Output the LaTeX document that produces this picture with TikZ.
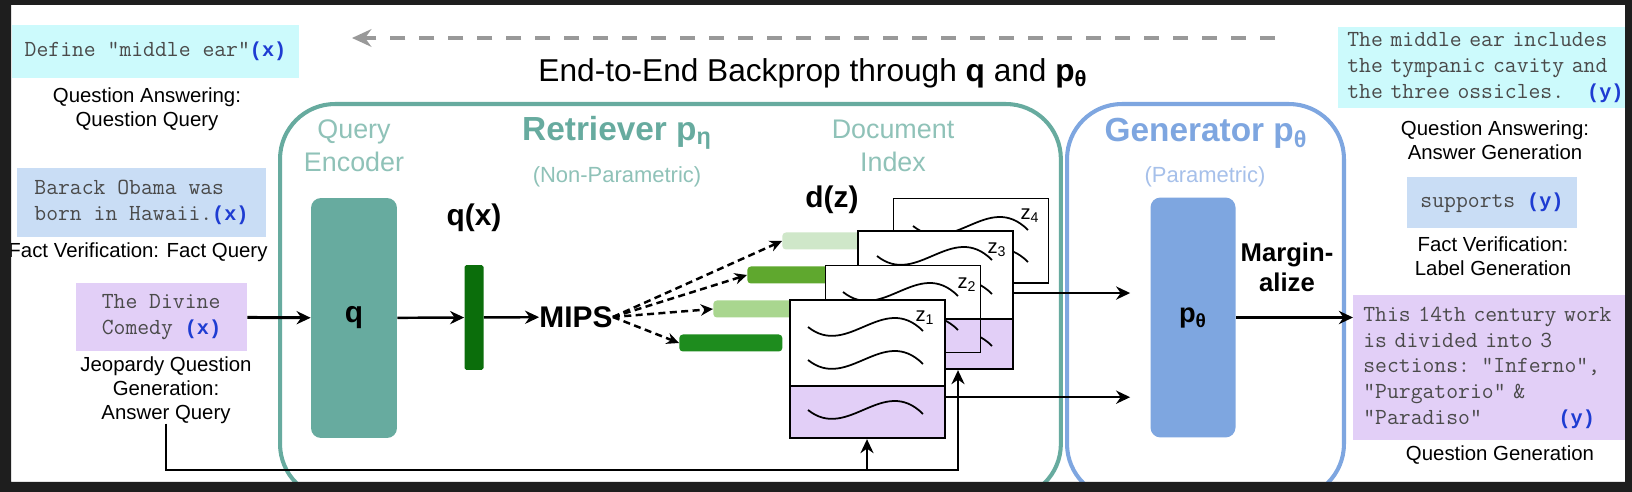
\documentclass[tikz,border=0pt]{standalone}
\usepackage{fontspec}
\setmainfont{Liberation Sans}
\newfontfamily\tagfont{Liberation Mono}
\usepackage{xcolor}
\usepackage{tikz}
\usetikzlibrary{arrows.meta,positioning}

\definecolor{framebg}{HTML}{1E1E1E}
\definecolor{rtteal}{HTML}{67AB9F}
\definecolor{rtlight}{HTML}{8FC2B8}
\definecolor{gnblue}{HTML}{7EA6E0}
\definecolor{gnlight}{HTML}{A6C0EA}
\definecolor{qacyan}{HTML}{CCFAFC}
\definecolor{fvblue}{HTML}{C9DDF5}
\definecolor{jqpurple}{HTML}{E2CFF7}
\definecolor{ytag}{HTML}{1E3CD2}
\definecolor{monogray}{HTML}{4A4A4A}
\definecolor{barpale}{HTML}{CFE7C9}
\definecolor{barmid}{HTML}{5FA82E}
\definecolor{barlight}{HTML}{A9D68F}
\definecolor{bardark}{HTML}{1E8C1E}
\definecolor{qxgreen}{HTML}{0B6E0B}

\newcommand{\tagx}{{\tagfont\fontsize{11.5pt}{14.7pt}\selectfont\bfseries\color{ytag}(x)}}
\newcommand{\tagy}{{\tagfont\fontsize{11.5pt}{14.7pt}\selectfont\bfseries\color{ytag}(y)}}
\newcommand{\docwave}[2]{\draw[wave, shift={(#1,#2)}] (0,0) .. controls (40,32) and (75,-36) .. (115,4);}

\begin{document}
\begin{tikzpicture}[
    x=0.02cm, y=-0.02cm,
    every node/.style={inner sep=0pt},
    lbl/.style={font=\fontsize{11.6pt}{13.6pt}\selectfont, align=center},
    mono/.style={font=\fontsize{13.1pt}{14.7pt}\selectfont\ttfamily, text=monogray, align=left},
    title/.style={font=\fontsize{19pt}{22pt}\selectfont\bfseries},
    subtitle/.style={font=\fontsize{12.5pt}{15pt}\selectfont},
    part/.style={font=\fontsize{15.3pt}{18.7pt}\selectfont, align=center},
    bold/.style={font=\fontsize{17pt}{20pt}\selectfont\bfseries},
    modbox/.style={draw, line width=2.3pt, rounded corners=1.1cm, anchor=north west, minimum height=7.9cm},
    encbox/.style={rounded corners=0.2cm, minimum width=1.72cm, minimum height=4.8cm},
    bar/.style={anchor=west, minimum width=2.06cm, minimum height=0.34cm, rounded corners=2pt},
    card/.style={draw, fill=white, anchor=north west, minimum width=3.1cm, path picture={
        \fill[jqpurple] ([yshift=#1]path picture bounding box.south west) rectangle (path picture bounding box.south east);
        \draw[line width=1.25pt] ([yshift=#1]path picture bounding box.south west) -- ([yshift=#1]path picture bounding box.south east);}},
    zlbl/.style={font=\fontsize{11.5pt}{13pt}\selectfont},
    wave/.style={line width=1pt},
    arr/.style={-{Stealth[length=8pt,width=7.5pt]}, line width=1.4pt},
    thinarr/.style={-{Stealth[length=8pt,width=7.5pt]}, line width=1.1pt},
    dasharr/.style={-{Stealth[length=7pt,width=6.5pt]}, line width=1.4pt, dash pattern=on 4pt off 2.5pt},
    backarr/.style={-{Stealth[length=11pt,width=10pt]}, line width=2.8pt, draw=gray!80, dash pattern=on 8.5pt off 8pt}
]

\useasboundingbox (0,0) rectangle (1632,492);
\fill[white] (0,0) rectangle (1632,492);

% Retriever and generator
\node[modbox, draw=rtteal, minimum width=15.62cm] (retr) at (278,102) {};
\node[modbox, draw=gnblue, minimum width=5.54cm] (gen) at (1065,102) {};

\node[title, text=rtteal] (rettitle) at (617,133) {Retriever p\textsubscript{η}};
\node[subtitle, text=rtlight] (retsub) at (617,177) {(Non-Parametric)};
\node[part, text=rtlight] (qenc) at (354,146) {Query\\Encoder};
\node[part, text=rtlight] (docidx) at (893,146) {Document\\Index};
\node[title, text=gnblue] (gentitle) at (1206,133) {Generator p\textsubscript{θ}};
\node[subtitle, text=gnlight] (gensub) at (1205,177) {(Parametric)};

% Inputs
\node[mono, fill=qacyan, minimum width=5.74cm, minimum height=1.06cm] (inqa) at (155.5,51.5) {Define "middle ear"\tagx};
\node[lbl] (qalbl) at (147,109) {Question Answering:\\Question Query};
\node[mono, fill=fvblue, minimum width=4.98cm, minimum height=1.38cm] (infv) at (141.5,202.5) {Barack Obama was\\born in Hawaii.\tagx};
\node[lbl] (fvlbl) at (138,252) {Fact Verification: Fact Query};
\node[mono, fill=jqpurple, minimum width=3.42cm, minimum height=1.36cm] (injq) at (161.5,317) {The Divine\\Comedy~\tagx};
\node[lbl] (jqlbl) at (166,390) {Jeopardy Question\\Generation:\\Answer Query};

% Query encoder and MIPS
\node[encbox, fill=rtteal, bold] (qbox) at (354,318) {q};
\node[bold] (qxlbl) at (474,218) {q(x)};
\node[fill=qxgreen, minimum width=0.38cm, minimum height=2.1cm, rounded corners=1pt] (qxbar) at (474,317.5) {};
\node[bold] (mips) at (576,317) {MIPS};
\node[bold] (dzlbl) at (832,200) {d(z)};

% Document vectors
\node[bar, fill=barpale] (barA) at (782,241) {};
\node[bar, fill=barmid] (barB) at (747,275) {};
\node[bar, fill=barlight] (barC) at (713,309) {};
\node[bar, fill=bardark] (barD) at (679,343) {};

% Documents
\node[card=0pt, line width=0.7pt, minimum height=1.7cm] (z4) at (893,198) {};
\docwave{913}{226}
\docwave{913}{258}
\node[zlbl] (z4lbl) at (1030,216) {z\textsubscript{4}};

\node[card=1.0cm, line width=1.25pt, minimum height=2.76cm] (z3) at (857,230) {};
\docwave{877}{256}
\docwave{877}{290}
\docwave{877}{342}
\node[zlbl] (z3lbl) at (997,250) {z\textsubscript{3}};

\node[card=0.68cm, line width=0.7pt, minimum height=1.74cm] (z2) at (825,265) {};
\docwave{843}{292}
\docwave{843}{326}
\node[zlbl] (z2lbl) at (967,285) {z\textsubscript{2}};

\node[card=1.04cm, line width=1.25pt, minimum height=2.76cm] (z1) at (789,299) {};
\docwave{808}{327}
\docwave{808}{360}
\docwave{808}{410}
\node[zlbl] (z1lbl) at (925,318) {z\textsubscript{1}};

% Generator
\node[encbox, fill=gnblue, font=\fontsize{15.5pt}{18pt}\selectfont\bfseries, minimum width=1.7cm] (pbox) at (1193,317.5) {p\textsubscript{θ}};
\node[font=\fontsize{14.6pt}{17pt}\selectfont\bfseries, align=center] (marg) at (1287,267) {Margin-\\alize};

% Outputs
\node[mono, fill=qacyan, anchor=north west, minimum height=1.62cm, text width=6cm, inner xsep=0.18cm] (outqa) at (1338,27) {The middle ear includes\\the tympanic cavity and\\the three ossicles.~~~\tagy};
\node[lbl] (qaoutlbl) at (1495,140) {Question Answering:\\Answer Generation};
\node[mono, fill=fvblue, minimum width=3.4cm, minimum height=1.02cm] (outfv) at (1492,202.5) {supports~\tagy};
\node[lbl] (fvoutlbl) at (1493,256) {Fact Verification:\\Label Generation};
\node[mono, fill=jqpurple, anchor=north west, minimum height=2.9cm, text width=6cm, inner xsep=0.2cm] (outjq) at (1353,295) {This 14th century work\\is divided into 3\\sections: "Inferno",\\"Purgatorio" \&\\"Paradiso"~~~~~~~~~~\tagy};
\node[lbl] (jqoutlbl) at (1500,455) {Question Generation};

% Backprop
\coordinate (bpR) at (1275,38);
\coordinate (bpL) at (352,38);
\draw[backarr] (bpR) -- (bpL);
\node[font=\fontsize{18pt}{21pt}\selectfont] (bptext) at (813,73) {End-to-End Backprop through \textbf{q} and \textbf{p\textsubscript{θ}}};

% Connections
\draw[arr, line width=1.7pt] (injq) -- (qbox);
\draw[arr] (qbox) -- (qxbar);
\draw[arr] (qxbar) -- (mips);
\foreach \b in {barA,barB,barC,barD}
    \draw[dasharr] (mips.east) -- (\b.west);

\coordinate (z3out) at ([yshift=4pt]z3.east);
\coordinate (z1out) at ([yshift=-16pt]z1.east);
\draw[arr, shorten >=0.4cm] (z3out) -- (z3out -| pbox.west);
\draw[arr, shorten >=0.4cm] (z1out) -- (z1out -| pbox.west);
\draw[arr] (pbox) -- (pbox -| outjq.west);

% Query fed to documents
\coordinate (fbR) at (958,470);
\coordinate (fbM) at (867,470);
\draw[thinarr] (jqlbl.south) |- (fbR) -- (fbR |- z3.south);
\draw[thinarr] (fbM) -- (fbM |- z1.south);

% Frame
\fill[framebg, even odd rule] (0,0) rectangle (1632,492) (11,5) rectangle (1625,482);

\end{tikzpicture}
\end{document}
